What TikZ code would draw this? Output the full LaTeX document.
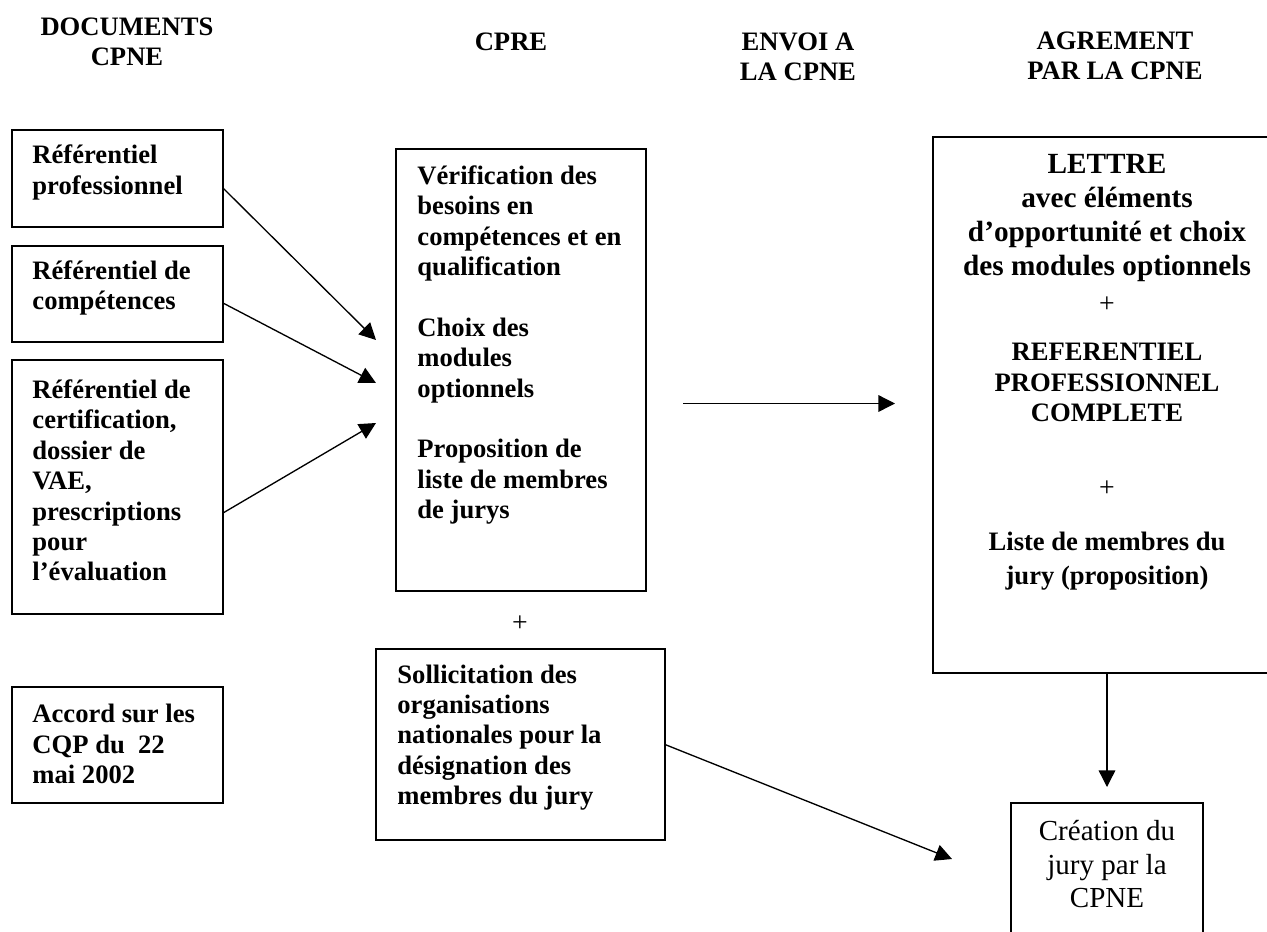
\documentclass[tikz,border=0pt]{standalone}
\usepackage{fontspec}
\setmainfont{Liberation Serif}
\usetikzlibrary{arrows.meta,calc}
\newlength{\px}
\setlength{\px}{0.451pt}
\tikzset{box/.style={draw, line width=0.75pt, anchor=north west, inner sep=0pt, outer sep=0pt}}
\tikzset{doc/.style={anchor=west, inner sep=0pt, align=left, font=\bfseries\fontsize{12}{13.7}\selectfont}}
\tikzset{head/.style={inner sep=0pt, align=center, font=\bfseries\fontsize{12}{13.5}\selectfont}}
\tikzset{mid/.style={inner sep=0pt, align=center, font=\bfseries\fontsize{12}{13.75}\selectfont}}
\tikzset{wide/.style={inner sep=0pt, align=center, font=\bfseries\fontsize{13.2}{15.3}\selectfont}}
\tikzset{plus/.style={inner sep=0pt, font=\fontsize{12.5}{14}\selectfont}}
\tikzset{flow/.style={line width=0.6pt, -{Triangle[length=7.5pt,width=7.5pt]}}}

\begin{document}
\begin{tikzpicture}[x=\px, y=-\px]
	\useasboundingbox (0,0) rectangle (1267,931);
	\clip (0,0) rectangle (1267,931);
	% column headings
	\node[head] (hdoc) at (127,42) {DOCUMENTS\\CPNE};
	\node[head] (hcpre) at (511,42) {CPRE};
	\node[head] (henvoi) at (798,57) {ENVOI A\\LA CPNE};
	\node[head] (hagr) at (1115,56) {AGREMENT\\PAR LA CPNE};
	% documents CPNE
	\node[box, minimum width={211*\px}, minimum height={97*\px}] (refpro) at (12,130) {};
	\node[doc] (refprotxt) at (32,172.5) {Référentiel\\professionnel};
	\node[box, minimum width={211*\px}, minimum height={96*\px}] (refcomp) at (12,246) {};
	\node[doc] (refcomptxt) at (32,288) {Référentiel de\\compétences};
	\node[box, minimum width={211*\px}, minimum height={254*\px}] (refcert) at (12,360) {};
	\node[doc] (refcerttxt) at (32,480.5) {Référentiel de\\certification,\\dossier de\\VAE,\\prescriptions\\pour\\l’évaluation};
	\node[box, minimum width={211*\px}, minimum height={116*\px}] (accord) at (12,687) {};
	\node[doc] (accordtxt) at (32,744) {Accord sur les\\CQP du\ \ 22\\mai 2002};
	% CPRE
	\node[box, minimum width={250*\px}, minimum height={442*\px}] (cpre) at (396,149) {};
	\node[doc] (cpretxt) at (417,345) {Vérification des\\besoins en\\compétences et en\\qualification\\[13.7pt]Choix des\\modules\\optionnels\\[13.7pt]Proposition de\\liste de membres\\de jurys};
	\node[plus] (plus0) at (520,624) {+};
	\node[box, minimum width={289*\px}, minimum height={191*\px}] (sollic) at (376,649) {};
	\node[doc] (sollictxt) at (397,737.5) {Sollicitation des\\organisations\\nationales pour la\\désignation des\\membres du jury};
	% agrement
	\node[box, minimum width={348*\px}, minimum height={536*\px}] (agr) at (933,137) {};
	\node[wide] (lettre) at (1107,218) {LETTRE\\avec éléments\\d’opportunité et choix\\des modules optionnels};
	\node[plus] (plus1) at (1107,305) {+};
	\node[mid] (refcpl) at (1107,382.5) {REFERENTIEL\\PROFESSIONNEL\\COMPLETE};
	\node[plus] (plus2) at (1107,489) {+};
	\node[mid, font=\bfseries\fontsize{12}{15.3}\selectfont] (liste) at (1107,561) {Liste de membres du\\jury (proposition)};
	\node[box, minimum width={192*\px}, minimum height={160*\px}] (jury) at (1011,803) {};
	\node[mid, font=\fontsize{13.1}{15.1}\selectfont] (jurytxt) at (1107,864.5) {Création du\\jury par la\\CPNE};
	% arrows
	\coordinate (in1) at (376,340);
	\coordinate (in2) at (376,383);
	\coordinate (in3) at (376,423);
	\draw[flow] ($(refpro.east)+(0,9.5)$) -- (in1);
	\draw[flow] ($(refcomp.east)+(0,9)$) -- (in2);
	\draw[flow] ($(refcert.east)+(0,26)$) -- (in3);
	\coordinate (send) at (683,403.5);
	\coordinate (recv) at (895,403.5);
	\draw[flow] (send) -- (recv);
	\coordinate (down) at (1107,787);
	\draw[flow] (agr.south) -- (down);
	\coordinate (tojury) at (952,859);
	\draw[flow] (sollic.east) -- (tojury);
\end{tikzpicture}
\end{document}
